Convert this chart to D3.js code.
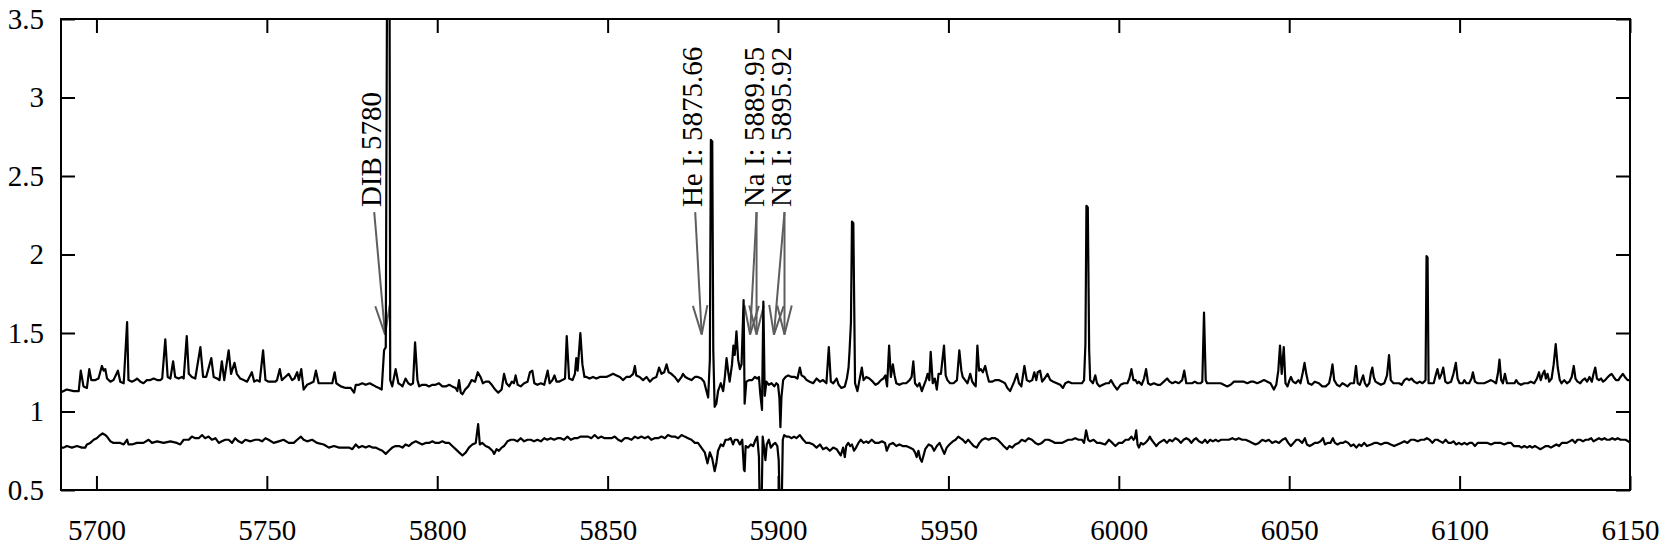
<!DOCTYPE html>
<html>
<head>
<meta charset="utf-8">
<script src="https://cdn.jsdelivr.net/npm/d3@7"></script>
<style>
  html, body { margin: 0; padding: 0; background: #fff; }
  svg { display: block; }
</style>
</head>
<body>
<svg></svg>
<script>
const width = 1659, height = 545;
const margin = {top: 19, right: 29, bottom: 55, left: 61};
const serif = "'Liberation Serif', 'Times New Roman', Times, serif";

// tick values
const xTicks = [5700, 5750, 5800, 5850, 5900, 5950, 6000, 6050, 6100, 6150];
const yTicks = [0.5, 1, 1.5, 2, 2.5, 3, 3.5];

// upper spectrum: [wavelength, flux]
const upperSpectrum = [
  [5689.4,1.12],[5691.3,1.14],[5693.3,1.13],[5694.8,1.13],[5695.4,1.26],[5696.2,1.16],[5697.2,1.15],[5697.9,1.27],[5698.5,1.20],[5699.7,1.20],
  [5700.6,1.21],[5701.6,1.29],[5702.1,1.26],[5702.6,1.27],[5703.1,1.21],[5704.1,1.19],[5705.0,1.20],[5706.3,1.26],[5707.0,1.19],[5708.0,1.18],
  [5709.0,1.57],[5709.4,1.20],[5710.4,1.19],[5711.4,1.20],[5711.9,1.21],[5712.9,1.19],[5713.8,1.18],[5714.8,1.20],[5715.8,1.20],[5716.8,1.21],
  [5717.8,1.20],[5718.7,1.20],[5719.3,1.21],[5720.2,1.46],[5720.9,1.22],[5721.7,1.21],[5722.5,1.32],[5723.1,1.22],[5724.1,1.21],[5725.1,1.22],
  [5725.6,1.21],[5726.5,1.48],[5727.1,1.24],[5728.0,1.22],[5729.0,1.21],[5730.5,1.41],[5731.3,1.22],[5732.2,1.22],[5733.7,1.34],[5734.4,1.22],
  [5735.4,1.21],[5736.1,1.20],[5736.8,1.32],[5737.5,1.20],[5738.8,1.39],[5739.5,1.24],[5740.5,1.31],[5741.2,1.24],[5742.2,1.21],[5743.2,1.20],
  [5744.2,1.19],[5745.6,1.25],[5746.3,1.19],[5747.1,1.20],[5747.9,1.19],[5748.9,1.39],[5749.6,1.20],[5750.5,1.19],[5751.5,1.19],[5752.5,1.19],
  [5753.0,1.20],[5753.8,1.27],[5754.4,1.20],[5755.4,1.22],[5756.4,1.24],[5757.4,1.20],[5758.1,1.21],[5758.9,1.25],[5759.4,1.20],[5760.1,1.27],
  [5760.8,1.14],[5761.8,1.17],[5762.8,1.18],[5763.7,1.19],[5764.4,1.26],[5765.2,1.18],[5766.7,1.18],
  [5768.2,1.18],[5769.2,1.18],[5769.9,1.25],[5770.4,1.18],[5771.7,1.16],[5773.1,1.15],[5774.6,1.15],[5775.6,1.12],[5776.1,1.17],[5777.0,1.17],
  [5778.0,1.18],[5779.0,1.17],[5780.2,1.18],[5781.0,1.17],[5781.9,1.16],[5782.9,1.15],[5783.7,1.14],[5784.4,1.39],[5784.9,1.41],[5785.3,3.9],
  [5786.0,3.9],[5786.2,1.20],[5786.8,1.16],[5787.8,1.27],[5788.6,1.18],[5789.3,1.17],[5789.8,1.16],[5790.7,1.21],[5791.5,1.18],[5792.2,1.17],
  [5792.9,1.18],[5793.5,1.44],[5794.2,1.20],[5794.7,1.16],[5795.6,1.17],[5796.6,1.17],[5797.6,1.16],[5798.6,1.17],[5799.5,1.17],[5800.5,1.18],
  [5801.5,1.16],[5802.5,1.16],[5803.5,1.17],[5804.4,1.16],[5805.4,1.15],[5805.9,1.13],[5806.4,1.20],[5806.9,1.12],[5807.4,1.11],[5808.2,1.14],
  [5809.1,1.16],[5810.1,1.20],[5811.1,1.19],[5811.9,1.25],[5812.7,1.22],[5813.4,1.18],[5814.2,1.19],[5815.2,1.19],[5816.0,1.17],[5817.0,1.14],
  [5817.9,1.12],[5818.9,1.14],[5819.6,1.24],[5820.3,1.18],[5821.1,1.16],[5821.9,1.19],[5822.5,1.18],[5823.0,1.23],[5823.6,1.17],[5824.5,1.16],
  [5825.5,1.18],[5826.5,1.19],[5827.2,1.25],[5827.9,1.26],[5828.5,1.18],[5829.4,1.17],[5830.4,1.18],[5831.4,1.17],[5832.4,1.26],[5833.0,1.18],
  [5833.8,1.20],[5834.4,1.23],[5835.0,1.19],[5835.7,1.19],[5836.7,1.20],[5837.5,1.21],[5838.0,1.48],[5838.7,1.21],[5839.7,1.20],[5840.4,1.24],
  [5840.8,1.34],[5841.2,1.26],[5842.0,1.50],[5842.6,1.30],[5843.2,1.22],
  [5843.8,1.22],[5844.7,1.21],[5845.7,1.22],[5846.7,1.21],[5847.7,1.22],[5848.7,1.22],[5849.6,1.22],[5850.6,1.23],[5851.6,1.24],[5852.6,1.23],
  [5853.6,1.22],[5854.5,1.20],[5855.5,1.22],[5856.5,1.22],[5857.5,1.24],[5858.0,1.29],[5858.4,1.23],[5859.4,1.22],[5860.4,1.20],[5861.4,1.22],
  [5862.4,1.19],[5863.3,1.21],[5864.3,1.22],[5865.1,1.28],[5865.8,1.24],[5866.6,1.25],[5867.3,1.30],[5867.9,1.25],[5868.7,1.24],[5869.7,1.22],
  [5870.7,1.19],[5871.7,1.22],[5872.1,1.24],[5872.8,1.22],[5873.6,1.21],[5874.6,1.20],[5875.6,1.22],[5876.5,1.22],[5877.5,1.21],[5878.3,1.19],
  [5879.0,1.13],[5879.5,1.09],[5880.0,1.33],[5880.3,2.73],[5880.7,2.72],[5881.0,1.39],[5881.4,1.03],[5881.9,1.05],[5882.4,1.13],[5883.2,1.18],
  [5883.9,1.13],[5884.4,1.22],[5884.9,1.34],[5885.4,1.25],[5885.8,1.19],[5886.5,1.30],[5886.9,1.42],[5887.3,1.36],[5887.8,1.51],[5888.3,1.33],
  [5888.8,1.27],[5889.3,1.30],[5889.9,1.71],[5890.2,1.05],[5890.7,1.19],[5891.5,1.20],[5892.4,1.20],[5893.2,1.22],[5893.9,1.21],[5894.4,1.22],
  [5894.8,1.11],[5895.3,1.01],[5895.7,1.70],[5896.1,1.10],[5896.6,1.19],[5897.3,1.17],[5898.1,1.18],[5898.9,1.16],[5899.5,1.18],[5900.0,1.17],
  [5900.4,1.09],[5900.7,0.90],[5901.0,1.09],[5901.5,1.20],[5902.2,1.22],[5903.0,1.23],[5904.0,1.22],[5904.9,1.22],[5905.7,1.21],[5906.4,1.28],
  [5906.9,1.23],[5907.7,1.22],[5908.4,1.20],[5909.3,1.19],[5910.3,1.18],[5911.3,1.21],[5912.3,1.19],[5913.2,1.20],[5914.2,1.18],[5914.9,1.41],
  [5915.5,1.19],[5916.2,1.18],[5917.2,1.21],[5917.8,1.17],[5918.6,1.15],[5919.6,1.16],
  [5920.2,1.21],[5920.7,1.28],[5921.0,1.39],[5921.4,1.57],[5921.7,2.21],[5922.1,2.20],[5922.6,1.18],[5923.3,1.13],[5923.9,1.20],[5924.6,1.28],
  [5925.1,1.20],[5925.9,1.22],[5926.8,1.21],[5927.8,1.19],[5928.6,1.17],[5929.4,1.18],[5930.2,1.20],[5930.9,1.21],[5931.5,1.23],[5932.0,1.16],
  [5932.6,1.42],[5933.1,1.22],[5933.7,1.30],[5934.2,1.23],[5934.7,1.18],[5935.6,1.17],[5936.6,1.18],[5937.6,1.18],[5938.6,1.20],[5939.2,1.22],
  [5939.7,1.32],[5940.2,1.18],[5940.9,1.16],[5941.5,1.18],[5942.2,1.13],[5942.7,1.16],[5943.4,1.20],[5943.9,1.24],[5944.4,1.20],[5944.8,1.38],
  [5945.4,1.18],[5946.0,1.21],[5946.6,1.14],[5947.1,1.24],[5947.8,1.24],[5948.7,1.42],[5949.2,1.23],[5949.7,1.20],[5950.5,1.18],[5951.5,1.18],
  [5952.5,1.20],[5953.2,1.39],[5953.8,1.26],[5954.2,1.22],[5954.9,1.20],[5955.6,1.18],[5956.4,1.24],[5957.0,1.19],[5957.6,1.17],[5958.0,1.16],
  [5958.5,1.42],[5959.0,1.26],[5959.5,1.27],[5960.1,1.25],[5960.8,1.29],[5961.3,1.24],[5961.9,1.19],[5962.8,1.19],[5963.8,1.20],[5964.8,1.20],
  [5965.8,1.19],[5966.6,1.18],[5967.3,1.15],[5968.1,1.13],[5968.7,1.16],[5969.3,1.19],[5970.1,1.24],[5970.7,1.18],[5971.4,1.16],[5972.3,1.29],
  [5973.0,1.20],[5973.8,1.19],[5974.6,1.20],[5975.2,1.25],[5975.8,1.20],[5976.2,1.25],[5976.9,1.26],[5977.5,1.19],[5978.2,1.21],[5979.1,1.24],
  [5979.9,1.20],[5980.8,1.19],[5981.8,1.18],[5982.8,1.17],[5983.6,1.15],[5984.3,1.18],[5985.2,1.19],[5986.2,1.18],[5987.2,1.18],[5988.2,1.18],
  [5989.2,1.18],[5989.8,1.20],[5990.2,1.43],[5990.5,2.31],[5990.9,2.30],[5991.3,1.39],[5991.6,1.20],[5992.4,1.18],[5993.1,1.23],[5993.6,1.18],
  [5994.3,1.16],[5995.3,1.17],[5996.3,1.18],
  [5997.1,1.18],[5997.7,1.20],[5998.5,1.17],[5999.5,1.14],[6000.5,1.17],[6001.5,1.18],[6002.5,1.18],[6003.1,1.21],[6003.7,1.27],[6004.3,1.20],
  [6004.9,1.20],[6005.4,1.18],[6005.9,1.19],[6006.7,1.17],[6007.4,1.21],[6008.0,1.27],[6008.6,1.18],[6009.3,1.17],[6010.3,1.18],[6011.3,1.17],
  [6012.2,1.17],[6013.2,1.19],[6014.2,1.21],[6014.9,1.19],[6015.7,1.18],[6016.6,1.19],[6017.6,1.18],[6018.6,1.20],[6019.2,1.26],[6019.8,1.18],
  [6020.6,1.18],[6021.5,1.18],[6022.3,1.19],[6023.1,1.18],[6024.0,1.18],[6024.5,1.19],[6025.0,1.63],[6025.5,1.20],[6025.9,1.18],[6026.9,1.18],
  [6027.9,1.18],[6028.9,1.18],[6029.9,1.18],[6030.8,1.17],[6031.8,1.16],[6032.8,1.17],[6033.8,1.19],[6034.7,1.19],[6035.7,1.19],[6036.7,1.19],
  [6037.7,1.18],[6038.7,1.19],[6039.6,1.19],[6040.6,1.18],[6041.6,1.19],[6042.6,1.20],[6043.6,1.19],[6044.5,1.18],[6045.5,1.14],[6046.2,1.17],
  [6046.8,1.26],[6047.3,1.42],[6047.8,1.24],[6048.4,1.41],[6048.9,1.18],[6049.5,1.16],[6050.1,1.20],[6050.5,1.22],[6051.1,1.19],[6051.9,1.18],
  [6052.7,1.20],[6053.3,1.18],[6054.0,1.25],[6054.5,1.31],[6055.0,1.24],[6055.6,1.18],[6056.6,1.17],[6057.5,1.19],[6058.7,1.18],[6059.7,1.16],
  [6060.7,1.16],[6061.7,1.18],[6062.2,1.23],[6062.7,1.30],[6063.2,1.20],[6064.0,1.17],[6064.8,1.16],[6065.6,1.18],[6066.4,1.17],[6067.1,1.16],
  [6068.0,1.18],[6069.0,1.18],[6069.6,1.29],[6070.1,1.18],[6070.7,1.17],[6071.2,1.20],[6071.7,1.23],[6072.2,1.18],[6072.8,1.16],
  [6073.5,1.18],[6074.0,1.25],[6074.4,1.28],[6074.8,1.22],[6075.3,1.19],[6076.1,1.18],[6076.9,1.17],[6077.9,1.18],[6078.7,1.23],[6079.3,1.36],
  [6079.8,1.20],[6080.6,1.18],[6081.6,1.18],[6082.3,1.18],[6083.0,1.17],[6083.8,1.20],[6084.5,1.21],[6085.2,1.20],[6085.9,1.21],[6086.7,1.19],
  [6087.5,1.18],[6088.3,1.19],[6089.1,1.18],[6089.6,1.19],[6090.0,1.20],[6090.3,1.99],[6090.6,1.98],[6090.9,1.18],[6091.6,1.18],[6092.4,1.18],
  [6093.1,1.24],[6093.5,1.27],[6094.1,1.21],[6094.7,1.24],[6095.2,1.28],[6095.8,1.19],[6096.5,1.18],[6097.5,1.19],[6098.2,1.24],[6098.9,1.31],
  [6099.4,1.21],[6100.0,1.18],[6100.9,1.18],[6101.4,1.20],[6102.0,1.18],[6102.8,1.18],[6103.5,1.21],[6103.9,1.25],[6104.5,1.19],[6105.3,1.18],
  [6106.3,1.18],[6107.2,1.18],[6108.2,1.19],[6109.2,1.20],[6110.0,1.19],[6110.7,1.18],[6111.3,1.25],[6111.7,1.33],[6112.2,1.20],[6112.7,1.18],
  [6113.3,1.24],[6113.9,1.18],[6114.6,1.18],[6115.4,1.18],[6116.1,1.18],[6116.6,1.20],[6117.2,1.18],[6118.0,1.17],[6119.0,1.18],[6120.0,1.18],
  [6120.9,1.19],[6121.9,1.18],[6122.7,1.21],[6123.3,1.25],[6123.8,1.20],[6124.4,1.24],[6124.9,1.26],[6125.3,1.21],[6125.8,1.24],[6126.3,1.19],
  [6127.0,1.21],[6127.6,1.30],[6128.2,1.43],[6128.8,1.28],[6129.4,1.20],[6129.9,1.18],[6130.7,1.20],[6131.5,1.18],[6132.2,1.19],[6132.9,1.22],
  [6133.5,1.29],[6134.0,1.21],[6134.6,1.19],[6135.4,1.18],[6136.1,1.20],[6136.8,1.21],[6137.4,1.19],[6138.1,1.22],[6138.8,1.19],[6139.3,1.24],
  [6139.8,1.28],[6140.3,1.21],[6140.9,1.20],[6141.5,1.21],[6142.1,1.19],[6142.7,1.20],[6143.5,1.22],[6144.0,1.23],[6144.6,1.24],[6145.2,1.22],
  [6145.9,1.20],[6146.6,1.20],[6147.2,1.22],[6147.9,1.24],[6148.5,1.22],[6149.3,1.20],[6150.1,1.20]
];

// lower spectrum: [wavelength, flux]
const lowerSpectrum = [
  [5689.4,0.77],[5690.4,0.77],[5691.3,0.78],[5692.8,0.77],[5694.3,0.78],[5695.7,0.77],[5696.7,0.77],[5697.2,0.79],[5698.2,0.80],[5699.2,0.82],
  [5700.1,0.83],[5701.1,0.85],[5701.8,0.86],[5702.6,0.85],[5703.1,0.84],[5704.1,0.81],[5705.0,0.80],[5706.0,0.80],[5707.0,0.80],[5708.0,0.79],
  [5709.0,0.82],[5709.4,0.79],[5710.4,0.79],[5711.9,0.80],[5713.8,0.80],[5715.3,0.82],[5716.3,0.80],[5717.8,0.81],[5719.7,0.80],[5721.7,0.81],
  [5723.6,0.80],[5724.6,0.79],[5725.6,0.82],[5727.1,0.82],[5728.0,0.84],[5729.0,0.83],[5730.0,0.83],[5731.0,0.85],[5731.9,0.83],[5732.9,0.84],
  [5733.9,0.82],[5734.9,0.83],[5735.9,0.80],[5736.8,0.81],[5737.8,0.82],[5738.8,0.82],[5739.8,0.80],[5740.7,0.83],[5741.7,0.81],[5742.7,0.80],
  [5743.7,0.82],[5745.2,0.81],[5746.6,0.82],[5747.6,0.82],[5748.6,0.81],[5749.6,0.83],[5750.5,0.82],[5752.0,0.80],[5753.5,0.81],[5754.9,0.82],
  [5756.4,0.80],[5757.9,0.80],[5758.9,0.82],[5760.0,0.84],[5760.8,0.82],[5761.8,0.81],[5763.3,0.82],[5764.7,0.80],[5766.7,0.79],
  [5768.2,0.77],[5769.7,0.78],[5771.2,0.77],[5772.6,0.77],[5774.1,0.77],[5775.1,0.76],[5776.1,0.79],[5777.0,0.77],[5778.0,0.78],[5779.0,0.77],
  [5780.0,0.78],[5781.0,0.77],[5781.9,0.77],[5782.9,0.76],[5783.9,0.75],[5784.9,0.73],[5785.8,0.75],[5786.8,0.77],[5787.8,0.78],[5788.8,0.78],
  [5789.8,0.77],[5790.7,0.79],[5791.7,0.78],[5792.7,0.80],[5793.7,0.81],[5794.7,0.80],[5795.6,0.79],[5796.6,0.80],[5797.6,0.80],[5798.6,0.81],
  [5799.5,0.80],[5800.5,0.80],[5801.5,0.81],[5802.5,0.80],[5803.5,0.80],[5804.4,0.78],[5805.4,0.76],[5806.4,0.74],[5807.4,0.72],[5808.4,0.74],
  [5809.3,0.77],[5810.3,0.79],[5811.3,0.80],[5812.0,0.92],[5812.5,0.79],[5813.2,0.80],[5814.2,0.78],[5815.2,0.77],[5816.2,0.75],[5816.7,0.73],
  [5817.4,0.76],[5818.1,0.75],[5818.9,0.77],[5819.6,0.78],[5820.6,0.81],[5821.6,0.82],[5822.5,0.82],[5823.5,0.81],[5824.5,0.83],[5825.5,0.81],
  [5826.5,0.82],[5827.4,0.82],[5828.4,0.81],[5829.4,0.82],[5830.4,0.81],[5831.4,0.83],[5832.3,0.82],[5833.3,0.83],[5834.3,0.82],[5835.3,0.83],
  [5836.2,0.83],[5837.2,0.82],[5838.2,0.84],[5839.2,0.82],[5840.2,0.83],[5841.1,0.83],[5842.1,0.84],[5843.1,0.84],
  [5844.3,0.84],[5845.2,0.83],[5846.2,0.85],[5847.2,0.83],[5848.2,0.84],[5849.1,0.83],[5850.1,0.83],[5851.1,0.83],[5852.1,0.84],[5853.1,0.82],
  [5854.0,0.81],[5855.0,0.83],[5856.0,0.83],[5857.0,0.82],[5858.0,0.84],[5858.9,0.83],[5859.9,0.84],[5860.9,0.83],[5861.9,0.84],[5862.8,0.82],
  [5863.8,0.83],[5864.8,0.83],[5865.8,0.84],[5866.8,0.83],[5867.7,0.85],[5868.7,0.84],[5869.7,0.84],[5870.7,0.83],[5871.7,0.85],[5872.6,0.84],
  [5873.6,0.83],[5874.6,0.82],[5875.6,0.80],[5876.5,0.80],[5877.5,0.77],[5878.5,0.74],[5879.3,0.67],[5880.0,0.74],[5880.7,0.70],[5881.4,0.62],
  [5881.9,0.67],[5882.4,0.75],[5883.2,0.79],[5883.9,0.78],[5884.6,0.82],[5885.4,0.82],[5886.1,0.83],[5886.8,0.79],[5887.3,0.82],[5888.1,0.82],
  [5888.8,0.79],[5889.5,0.82],[5890.0,0.63],[5890.2,0.62],[5890.5,0.78],[5891.2,0.77],[5892.0,0.79],[5892.7,0.78],[5893.4,0.82],[5893.9,0.84],
  [5894.4,0.71],[5894.7,0.30],[5895.1,0.30],[5895.5,0.84],[5895.9,0.77],[5896.3,0.69],[5896.7,0.79],[5897.3,0.82],[5897.9,0.77],[5898.6,0.79],
  [5899.2,0.80],[5899.8,0.78],[5900.2,0.69],[5900.6,0.30],[5901.0,0.30],[5901.4,0.82],[5901.8,0.85],[5902.5,0.84],[5903.2,0.84],[5903.9,0.83],
  [5904.7,0.84],[5905.4,0.83],[5906.4,0.85],[5907.4,0.82],[5908.3,0.80],[5909.3,0.80],[5910.3,0.79],[5911.3,0.77],[5912.3,0.79],[5913.2,0.76],
  [5914.2,0.77],[5915.2,0.75],[5916.2,0.77],[5917.2,0.76],[5917.8,0.74],[5918.4,0.72],[5919.1,0.77],[5919.6,0.71],
  [5920.0,0.78],[5920.6,0.80],[5921.2,0.78],[5921.7,0.79],[5922.3,0.75],[5922.9,0.77],[5923.6,0.80],[5924.3,0.82],[5925.1,0.80],[5925.9,0.81],
  [5926.5,0.80],[5927.5,0.82],[5928.5,0.80],[5929.5,0.80],[5930.5,0.81],[5931.4,0.80],[5931.9,0.75],[5932.7,0.79],[5933.7,0.80],[5934.7,0.78],
  [5935.6,0.79],[5936.6,0.78],[5937.6,0.78],[5938.6,0.77],[5939.6,0.76],[5940.2,0.74],[5940.7,0.71],[5941.2,0.75],[5941.7,0.70],[5942.2,0.68],
  [5942.7,0.72],[5943.2,0.76],[5944.2,0.79],[5945.1,0.78],[5945.8,0.75],[5946.6,0.78],[5947.4,0.80],[5948.2,0.76],[5948.8,0.73],[5949.5,0.77],
  [5950.3,0.79],[5951.3,0.81],[5952.1,0.82],[5952.9,0.84],[5953.5,0.83],[5954.2,0.82],[5955.0,0.80],[5955.8,0.82],[5956.6,0.80],[5957.4,0.78],
  [5958.3,0.77],[5959.1,0.80],[5959.9,0.82],[5960.8,0.83],[5961.8,0.82],[5962.7,0.83],[5963.7,0.83],[5964.5,0.82],[5965.4,0.80],[5966.2,0.78],
  [5967.2,0.76],[5967.9,0.78],[5968.7,0.77],[5969.6,0.79],[5970.6,0.80],[5971.5,0.82],[5972.5,0.81],[5973.5,0.83],[5974.5,0.82],[5975.5,0.80],
  [5976.4,0.79],[5977.4,0.80],[5978.4,0.82],[5979.4,0.82],[5980.4,0.81],[5981.3,0.80],[5982.3,0.80],[5983.3,0.80],[5984.3,0.81],[5985.2,0.82],
  [5986.2,0.82],[5987.2,0.83],[5988.2,0.82],[5989.2,0.82],[5989.8,0.80],[5990.4,0.88],[5991.0,0.82],[5991.6,0.81],[5992.6,0.82],[5993.6,0.80],
  [5994.5,0.80],[5996.0,0.79],
  [5997.1,0.82],[5998.1,0.80],[5999.0,0.78],[6000.0,0.80],[6001.0,0.80],[6002.0,0.82],[6002.9,0.82],[6003.7,0.84],[6004.3,0.82],[6004.7,0.83],
  [6005.1,0.88],[6005.5,0.79],[6005.9,0.77],[6006.5,0.80],[6007.1,0.79],[6007.8,0.80],[6008.6,0.82],[6009.1,0.84],[6009.6,0.82],[6010.3,0.80],
  [6011.0,0.78],[6011.8,0.80],[6012.5,0.81],[6013.3,0.82],[6014.1,0.80],[6014.9,0.82],[6015.7,0.81],[6016.6,0.83],[6017.4,0.82],[6018.2,0.80],
  [6019.0,0.82],[6019.8,0.83],[6020.6,0.82],[6021.3,0.80],[6022.0,0.82],[6022.7,0.83],[6023.5,0.81],[6024.5,0.80],[6025.3,0.82],[6026.0,0.80],
  [6026.8,0.82],[6027.6,0.81],[6028.4,0.82],[6029.2,0.81],[6030.0,0.82],[6030.7,0.82],[6031.5,0.82],[6032.3,0.82],[6033.3,0.83],[6034.3,0.82],
  [6035.2,0.83],[6036.2,0.82],[6037.2,0.82],[6038.2,0.81],[6039.2,0.80],[6040.1,0.79],[6041.1,0.80],[6042.1,0.82],[6043.1,0.81],[6044.0,0.82],
  [6045.0,0.80],[6046.0,0.81],[6047.0,0.80],[6048.0,0.82],[6048.9,0.83],[6049.7,0.80],[6050.5,0.78],[6051.3,0.80],[6052.1,0.82],[6052.8,0.82],
  [6053.8,0.80],[6054.6,0.83],[6055.2,0.79],[6056.0,0.78],[6056.8,0.79],[6057.5,0.80],[6058.3,0.80],[6059.2,0.81],[6059.9,0.83],[6060.5,0.79],
  [6061.3,0.80],[6062.1,0.80],[6062.8,0.83],[6063.4,0.80],[6064.2,0.79],[6065.0,0.80],[6065.8,0.80],[6066.5,0.81],[6067.3,0.80],[6068.1,0.78],
  [6068.9,0.79],[6069.7,0.77],[6070.5,0.79],[6071.2,0.78],[6072.0,0.80],[6072.8,0.78],
  [6074.0,0.79],[6075.0,0.80],[6075.9,0.80],[6076.9,0.79],[6077.9,0.80],[6078.9,0.80],[6079.8,0.79],[6080.8,0.78],[6081.8,0.79],[6082.8,0.80],
  [6083.8,0.81],[6084.7,0.80],[6085.7,0.82],[6086.7,0.82],[6087.7,0.81],[6088.7,0.82],[6089.6,0.82],[6090.4,0.83],[6091.2,0.82],[6092.0,0.80],
  [6092.8,0.82],[6093.5,0.82],[6094.3,0.81],[6095.1,0.80],[6095.9,0.82],[6096.7,0.80],[6097.5,0.80],[6098.2,0.81],[6099.0,0.79],[6099.8,0.80],
  [6100.6,0.79],[6101.4,0.80],[6102.2,0.79],[6102.9,0.80],[6103.7,0.80],[6104.5,0.78],[6105.3,0.80],[6106.3,0.80],[6107.2,0.80],[6108.2,0.80],
  [6109.2,0.79],[6110.2,0.80],[6111.2,0.80],[6112.1,0.80],[6113.1,0.79],[6114.1,0.80],[6115.1,0.80],[6115.9,0.78],[6116.6,0.78],[6117.4,0.78],
  [6118.2,0.77],[6119.0,0.78],[6119.8,0.77],[6120.6,0.78],[6121.3,0.77],[6122.1,0.78],[6122.9,0.77],[6123.7,0.76],[6124.5,0.77],[6125.3,0.78],
  [6126.0,0.78],[6126.8,0.77],[6127.6,0.78],[6128.4,0.79],[6129.2,0.78],[6130.0,0.80],[6130.7,0.80],[6131.5,0.80],[6132.3,0.81],[6133.1,0.82],
  [6133.9,0.80],[6134.6,0.82],[6135.4,0.82],[6136.2,0.81],[6137.0,0.82],[6137.8,0.82],[6138.6,0.83],[6139.3,0.81],[6140.1,0.82],[6140.9,0.83],
  [6141.7,0.82],[6142.5,0.83],[6143.2,0.82],[6144.0,0.82],[6144.8,0.83],[6145.6,0.82],[6146.4,0.83],[6147.2,0.82],[6147.9,0.82],[6148.7,0.82],
  [6149.5,0.81],[6150.1,0.80]
];

// line identifications: label, arrow start wavelength, arrow tip wavelengths
const lineLabels = ["DIB 5780", "He I: 5875.66", "Na I: 5889.95", "Na I: 5895.92"];
const arrowFrom = [5781.5, 5875.7, 5893.7, 5901.9];
const arrowTips = [[5784.7], [5877.6], [5891.8, 5893.7], [5898.8, 5901.9]];
const arrowY = [2.27, 1.49];

const svg = d3.select("svg")
  .attr("width", width)
  .attr("height", height)
  .style("font-family", serif);

const x = d3.scaleLinear()
  .domain([5689.6, 6150])
  .range([margin.left, width - margin.right]);

const y = d3.scaleLinear()
  .domain([0.5, 3.5])
  .range([height - margin.bottom, margin.top]);

svg.append("clipPath").attr("id", "plot")
  .append("rect")
  .attr("x", margin.left).attr("y", margin.top)
  .attr("width", width - margin.left - margin.right)
  .attr("height", height - margin.top - margin.bottom);

// arrows go under the spectra
const arrows = svg.append("g")
  .attr("stroke", "#5e5e5e")
  .attr("stroke-width", 2)
  .attr("fill", "none");

lineLabels.forEach((label, i) => {
  const x0 = x(arrowFrom[i]), y0 = y(arrowY[0]);
  arrowTips[i].forEach(t => {
    const x1 = x(t), y1 = y(arrowY[1]);
    const ang = Math.atan2(y0 - y1, x0 - x1);
    const len = 30, spread = 14 * Math.PI / 180;
    const head = [ang - spread, ang + spread].map(a => [x1 + len * Math.cos(a), y1 + len * Math.sin(a)]);
    arrows.append("line")
      .attr("x1", x0).attr("y1", y0).attr("x2", x1).attr("y2", y1);
    arrows.append("path")
      .attr("d", `M${head[0][0]},${head[0][1]}L${x1},${y1}L${head[1][0]},${head[1][1]}`);
  });
  svg.append("text")
    .attr("transform", `translate(${x0 + 7},${y0 - 5}) rotate(-90)`)
    .style("font-family", serif)
    .style("font-size", "29px")
    .attr("fill", "#000")
    .text(label);
});

const line = d3.line()
  .x(d => x(d[0]))
  .y(d => y(d[1]));

const spectra = svg.append("g").attr("clip-path", "url(#plot)");

[upperSpectrum, lowerSpectrum].forEach(s => {
  spectra.append("path")
    .datum(s)
    .attr("fill", "none")
    .attr("stroke", "#000")
    .attr("stroke-width", 2.2)
    .attr("stroke-linejoin", "round")
    .attr("d", line);
});

// axes, ticks pointing inward on all four sides
const tick = 14;

const styleAxis = g => {
  g.attr("font-family", null).attr("font-size", null);
  g.select(".domain").remove();
  g.selectAll(".tick line").attr("stroke", "#000").attr("stroke-width", 2);
  g.selectAll(".tick text")
    .style("font-family", serif)
    .style("font-size", "29px")
    .attr("fill", "#000");
};

svg.append("g")
  .attr("transform", `translate(0,${height - margin.bottom})`)
  .call(d3.axisBottom(x).tickValues(xTicks).tickFormat(d3.format("d")).tickSize(-tick).tickPadding(29))
  .call(styleAxis);

svg.append("g")
  .attr("transform", `translate(0,${margin.top})`)
  .call(d3.axisTop(x).tickValues(xTicks).tickFormat("").tickSize(-tick))
  .call(styleAxis);

svg.append("g")
  .attr("transform", `translate(${margin.left},0)`)
  .call(d3.axisLeft(y).tickValues(yTicks).tickFormat(d3.format("")).tickSize(-tick).tickPadding(17))
  .call(styleAxis);

svg.append("g")
  .attr("transform", `translate(${width - margin.right},0)`)
  .call(d3.axisRight(y).tickValues(yTicks).tickFormat("").tickSize(-tick))
  .call(styleAxis);

svg.append("rect")
  .attr("x", margin.left).attr("y", margin.top)
  .attr("width", width - margin.left - margin.right)
  .attr("height", height - margin.top - margin.bottom)
  .attr("fill", "none")
  .attr("stroke", "#000")
  .attr("stroke-width", 2);
</script>
</body>
</html>
